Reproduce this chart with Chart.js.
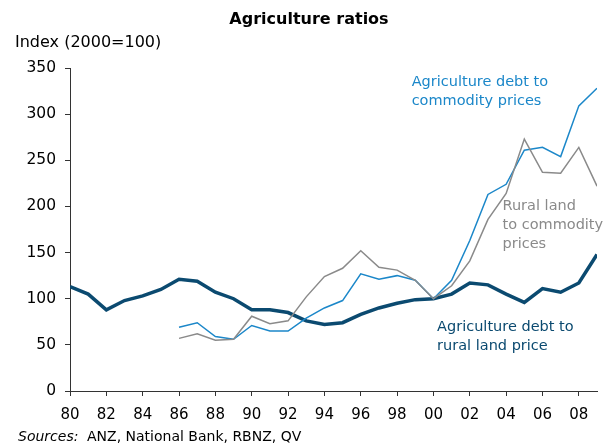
<!DOCTYPE html>
<html>
<head>
<meta charset="utf-8">
<script src="https://cdn.jsdelivr.net/npm/chart.js@4.4.1/dist/chart.umd.min.js"></script>
<style>
  html, body { margin: 0; padding: 0; background: #fff; }
  #wrap { width: 615px; height: 446px; position: relative; }
</style>
</head>
<body>
<div id="wrap"><canvas id="chart" width="615" height="446"></canvas></div>
<script>
// Data
const years = [1980, 1981, 1982, 1983, 1984, 1985, 1986, 1987, 1988, 1989,
               1990, 1991, 1992, 1993, 1994, 1995, 1996, 1997, 1998, 1999,
               2000, 2001, 2002, 2003, 2004, 2005, 2006, 2007, 2008, 2009];

const debtToLand = [113, 105, 88, 98, 103, 110, 121, 119, 107, 100,
                    88, 88, 85, 76, 72, 74, 83, 90, 95, 99,
                    100, 105, 117, 115, 105, 96, 111, 107, 117, 148];

const debtToCommodity = [null, null, null, null, null, null, 69, 74, 59, 56,
                         71, 65, 65, 79, 90, 98, 127, 121, 125, 120,
                         100, 120, 163, 213, 224, 261, 264, 254, 309, 328];

const landToCommodity = [null, null, null, null, null, null, 57, 62, 55, 56,
                         81, 73, 76, 102, 124, 133, 152, 134, 131, 120,
                         100, 114, 141, 186, 214, 273, 237, 236, 264, 222];

const yTicks = [0, 50, 100, 150, 200, 250, 300, 350];

// Series labels, anchored in data units
const notes = [
  { lines: ['Agriculture debt to', 'commodity prices'], x: 1998.8, y: 335, color: '#1b87c9' },
  { lines: ['Rural land', 'to commodity', 'prices'], x: 2003.8, y: 200, color: '#8a8a8a' },
  { lines: ['Agriculture debt to', 'rural land price'], x: 2000.2, y: 69, color: '#0b4a70' }
];

const FONT = "'DejaVu Sans', Verdana, sans-serif";

const toXY = arr => years.map((yr, i) => ({ x: yr, y: arr[i] }));

const textPlugin = {
  id: 'texts',
  afterDraw(chart) {
    const ctx = chart.ctx;
    const xs = chart.scales.x, ys = chart.scales.y;
    ctx.save();
    ctx.textBaseline = 'middle';
    // title
    ctx.fillStyle = '#000';
    ctx.textAlign = 'center';
    ctx.font = 'bold 16px ' + FONT;
    ctx.fillText('Agriculture ratios', 309, 20);
    // y axis title
    ctx.textAlign = 'left';
    ctx.font = '16px ' + FONT;
    ctx.fillText('Index (2000=100)', 15, 43);
    // sources
    ctx.font = 'italic 14px ' + FONT;
    ctx.fillText('Sources:', 18, 437);
    ctx.font = '14px ' + FONT;
    ctx.fillText('ANZ, National Bank, RBNZ, QV', 87, 437);
    // series notes
    ctx.font = '14.5px ' + FONT;
    notes.forEach(n => {
      ctx.fillStyle = n.color;
      const px = xs.getPixelForValue(n.x);
      const py = ys.getPixelForValue(n.y);
      n.lines.forEach((t, i) => ctx.fillText(t, px, py + i * 19));
    });
    ctx.restore();
  }
};

new Chart(document.getElementById('chart'), {
  type: 'line',
  data: {
    datasets: [
      {
        label: 'Rural land to commodity prices',
        data: toXY(landToCommodity),
        borderColor: '#8a8a8a',
        borderWidth: 1.5,
        pointRadius: 0,
        tension: 0,
        spanGaps: false
      },
      {
        label: 'Agriculture debt to commodity prices',
        data: toXY(debtToCommodity),
        borderColor: '#1b87c9',
        borderWidth: 1.5,
        pointRadius: 0,
        tension: 0,
        spanGaps: false
      },
      {
        label: 'Agriculture debt to rural land price',
        data: toXY(debtToLand),
        borderColor: '#0b4a70',
        borderWidth: 3.5,
        pointRadius: 0,
        tension: 0
      }
    ]
  },
  options: {
    responsive: false,
    animation: false,
    layout: { padding: { top: 68, right: 18, left: 0, bottom: 0 } },
    plugins: {
      legend: { display: false },
      tooltip: { enabled: false }
    },
    scales: {
      x: {
        type: 'linear',
        min: 1980,
        max: 2009,
        afterFit: s => { s.height = 55; },
        border: { color: '#333', width: 1 },
        grid: { drawOnChartArea: false, drawTicks: true, tickLength: 5, color: '#333' },
        ticks: {
          stepSize: 2,
          includeBounds: false,
          maxRotation: 0,
          autoSkip: false,
          padding: 10,
          color: '#000',
          font: { family: FONT, size: 15 },
          callback: v => String(v % 100).padStart(2, '0')
        }
      },
      y: {
        min: 0,
        max: 350,
        afterFit: s => { s.width = 70; },
        afterBuildTicks: s => { s.ticks = yTicks.map(v => ({ value: v })); },
        border: { color: '#333', width: 1 },
        grid: { drawOnChartArea: false, drawTicks: true, tickLength: 5, color: '#333' },
        ticks: {
          padding: 9,
          color: '#000',
          font: { family: FONT, size: 15.5 }
        }
      }
    }
  },
  plugins: [textPlugin]
});
</script>
</body>
</html>
